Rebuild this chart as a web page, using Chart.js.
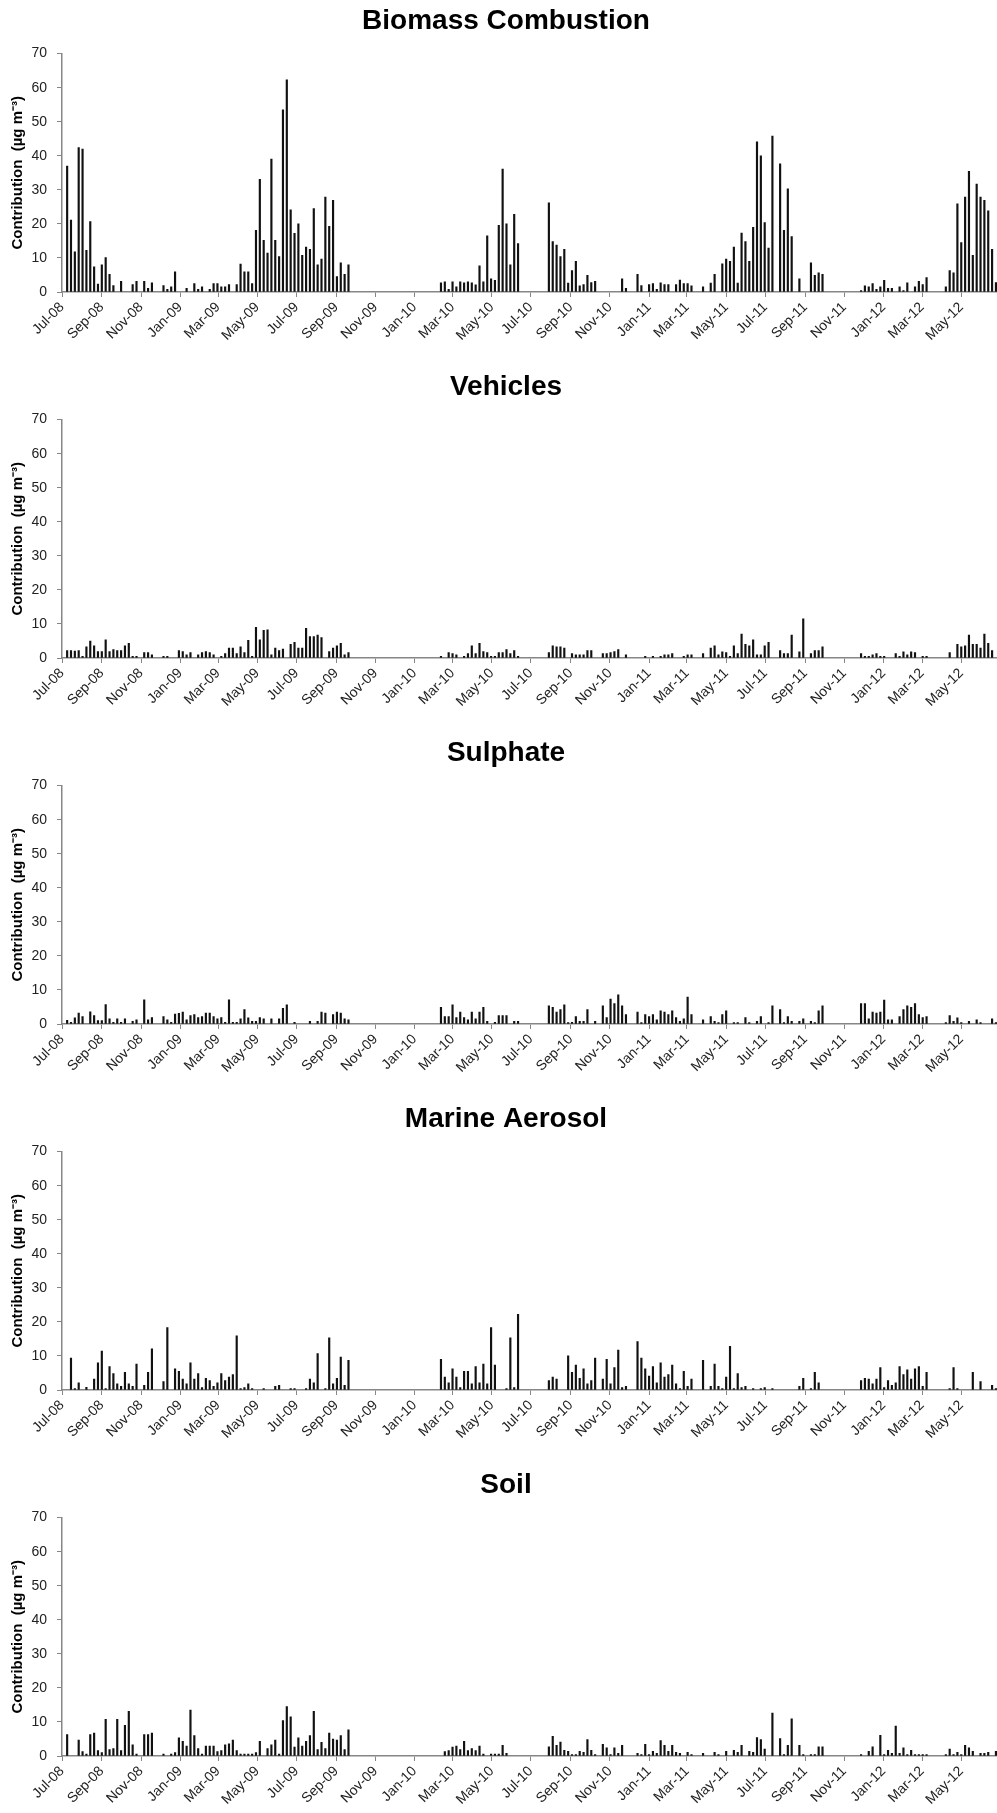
<!DOCTYPE html>
<html lang="en">
<head>
<meta charset="UTF-8">
<title>Source contributions</title>
<script src="https://cdn.jsdelivr.net/npm/chart.js"></script>
<style>
  body { margin: 0; background: #fff; overflow: hidden; }
  .panel { width: 997px; height: 366px; overflow: hidden; }
  canvas { display: block; }
</style>
</head>
<body>
<!-- canvases run 15px past the page edge so the titles sit a bit right of centre, like the original -->
<div class="panel"><canvas id="biomass" width="1012" height="366"></canvas></div>
<div class="panel"><canvas id="vehicles" width="1012" height="366"></canvas></div>
<div class="panel"><canvas id="sulphate" width="1012" height="366"></canvas></div>
<div class="panel"><canvas id="marine" width="1012" height="366"></canvas></div>
<div class="panel"><canvas id="soil" width="1012" height="366"></canvas></div>

<script>
// Sampling: one filter every 6 days, first one on 9 Jul 2008 (242 samples)
const FIRST_SAMPLE = '2008-07-09';
const STEP_DAYS = 6;
const AXIS_START = '2008-07-01';
const AXIS_END = '2012-07-19'; // the last ~3 weeks fall in the hidden 15px

const tickLabels = ['Jul-08', 'Sep-08', 'Nov-08', 'Jan-09', 'Mar-09', 'May-09', 'Jul-09', 'Sep-09',
    'Nov-09', 'Jan-10', 'Mar-10', 'May-10', 'Jul-10', 'Sep-10', 'Nov-10', 'Jan-11', 'Mar-11',
    'May-11', 'Jul-11', 'Sep-11', 'Nov-11', 'Jan-12', 'Mar-12', 'May-12'];

// Contributions (ug m-3), one value per sample, null = no sample
const biomass = [
    37, 21.1, 11.8, 42.4, 42, 12.2, 20.7, 7.4, 2.3, 8,
    10.1, 5.2, 1.9, null, 3.1, null, null, 2.2, 3.1, null,
    3.1, 1.1, 2.7, null, null, 1.9, 0.8, 1.5, 5.9, null,
    null, 1.1, null, 2.5, 0.8, 1.5, null, 0.8, 2.5, 2.5,
    1.5, 1.5, 2.2, null, 2.2, 8.2, 5.9, 5.9, 2.5, 18.1,
    33.1, 15.2, 11.4, 39, 15.2, 10.4, 53.5, 62.3, 24.1, 17.2,
    20, 10.8, 13.2, 12.5, 24.5, 8, 9.7, 27.9, 19.3, 26.9,
    4.5, 8.6, 5.2, 8, null, null, null, null, null, null,
    null, null, null, null, null, null, null, null, null, null,
    null, null, null, null, null, null, null, 2.7, 3, 0.8,
    3, 1.5, 3, 2.7, 3, 2.7, 2.1, 7.7, 3, 16.5,
    3.9, 3.4, 19.6, 36.1, 20, 8, 22.8, 14.2, null, null,
    null, null, null, null, null, 26.2, 14.8, 13.8, 10.4, 12.5,
    2.6, 6.3, 9, 1.8, 2.2, 4.9, 2.8, 3.1, null, null,
    null, null, null, null, 3.9, 1.1, null, null, 5.2, 1.9,
    null, 2.2, 2.5, 0.8, 2.7, 2.2, 2.2, null, 2.2, 3.5,
    2.5, 2.5, 1.8, null, null, 1.5, null, 2.6, 5.2, null,
    8.3, 9.7, 9, 13.2, 2.6, 17.3, 14.8, 9, 19, 44.1,
    40, 20.4, 12.9, 45.8, null, 37.6, 18.1, 30.3, 16.3, null,
    3.9, null, null, 8.6, 4.9, 5.6, 5.2, null, null, null,
    null, null, null, null, null, null, 0.4, 1.8, 1.5, 2.5,
    0.8, 1.5, 3.4, 1.1, 1.1, null, 1.5, 0.4, 2.7, null,
    1.5, 3.1, 2.2, 4.2, null, null, null, null, 1.5, 6.3,
    5.6, 25.9, 14.5, 27.9, 35.4, 10.8, 31.7, 27.9, 26.9, 23.8,
    12.5, 2.8
];

const vehicles = [
    2.2, 2.2, 2, 2.2, 0.5, 3.3, 5, 3.6, 1.9, 1.9,
    5.3, 1.9, 2.5, 2.2, 2.2, 3.6, 4.3, 0.5, 0.5, null,
    1.6, 1.6, 0.9, null, null, 0.5, 0.5, null, null, 2.2,
    1.9, 0.9, 1.6, null, 0.9, 1.6, 1.9, 1.6, 0.9, null,
    0.5, 1.3, 2.9, 2.9, 1.3, 3.3, 1.6, 5.2, 0.5, 9,
    5.3, 8.1, 8.3, 0.9, 2.9, 2.2, 2.6, null, 4, 4.6,
    2.9, 2.9, 8.7, 6.3, 6.3, 6.7, 6, null, 1.9, 2.9,
    3.6, 4.3, 0.9, 1.6, null, null, null, null, null, null,
    null, null, null, null, null, null, null, null, null, null,
    null, null, null, null, null, null, null, 0.5, null, 1.6,
    1.3, 0.9, null, 0.5, 1.3, 3.6, 1.3, 4.3, 1.9, 1.6,
    0.5, 0.5, 1.6, 1.6, 2.5, 1.3, 2.2, 0.5, null, null,
    null, null, null, null, null, 1.6, 3.6, 3.3, 3.3, 2.9,
    null, 1.3, 0.9, 0.9, 0.9, 2.2, 2.2, null, null, 1.3,
    1.3, 1.6, 1.9, 2.5, null, 0.9, null, null, null, null,
    0.5, null, 0.5, null, 0.5, 0.9, 0.9, 1.3, null, null,
    0.5, 0.9, 0.9, null, null, 1.3, null, 2.9, 3.6, 0.9,
    1.8, 1.6, 0.5, 3.6, 1.3, 7, 4, 3.6, 5.3, 0.9,
    0.9, 3.6, 4.6, null, null, 2.2, 1.3, 1.3, 6.7, null,
    1.8, 11.5, null, 1.3, 2.2, 2.2, 3.3, null, null, null,
    null, null, null, null, null, null, 1.3, 0.5, 0.5, 0.9,
    1.3, 0.5, 0.5, null, null, 1.3, 0.5, 1.8, 0.9, 1.8,
    1.6, null, 0.5, 0.5, null, null, null, null, null, 1.6,
    null, 4, 3.3, 3.6, 6.7, 4, 4, 2.9, 7, 4.3,
    2.2, null
];

const sulphate = [
    1.1, 0.5, 1.8, 3.2, 2.2, null, 3.6, 2.5, 1, 1,
    5.7, 1.5, 0.5, 1.5, 0.5, 1.5, null, 0.8, 1.2, null,
    7.1, 1.2, 1.9, null, null, 2.2, 1.2, 0.5, 2.9, 3.1,
    3.5, 1.2, 2.5, 2.8, 1.9, 2.2, 3.2, 3.2, 2.2, 1.5,
    1.9, 0.5, 7.1, 0.5, 0.5, 1.5, 4.2, 1.8, 0.8, 0.8,
    1.9, 1.5, null, 1.5, null, 1.5, 4.6, 5.6, null, 0.5,
    null, null, null, 0.8, null, 0.8, 3.5, 3.2, null, 2.8,
    3.5, 3.2, 1.5, 1.2, null, null, null, null, null, null,
    null, null, null, null, null, null, null, null, null, null,
    null, null, null, null, null, null, null, 4.9, 2.2, 2.2,
    5.6, 1.9, 3.5, 1.9, 1.2, 3.5, 1.5, 3.5, 4.9, 0.8,
    null, 0.5, 2.5, 2.5, 2.5, null, 0.8, 0.8, null, null,
    null, null, null, null, null, 5.3, 4.9, 3.5, 4.2, 5.6,
    0.4, 0.5, 2.2, 0.8, 0.8, 4.2, null, 0.8, null, 5.3,
    1.9, 7.3, 6, 8.6, 5.3, 2.8, null, null, 3.5, 0.4,
    2.8, 2.2, 2.8, 1.2, 3.9, 3.5, 2.8, 3.9, 1.9, 0.8,
    1.5, 7.9, 2.8, null, null, 1.2, null, 2.2, 0.8, 0.4,
    2.8, 3.9, null, 0.4, 0.4, null, 1.9, 0.4, null, 0.8,
    2.2, null, 0.4, 5.3, null, 4.2, 0.4, 2.2, 0.8, null,
    0.8, 1.5, null, 0.8, 0.4, 3.9, 5.3, null, null, null,
    null, null, null, null, null, null, 6, 6, 1.5, 3.5,
    3.2, 3.5, 7, 1.2, 1.2, null, 2.2, 4.2, 5.3, 4.9,
    6, 2.8, 1.9, 2.2, null, null, null, null, 0.4, 2.5,
    0.8, 1.8, 0.4, null, 0.8, null, 1.2, 0.4, null, null,
    1.5, 0.4
];

const marine = [
    null, 9.4, 0.4, 2.1, null, 0.8, null, 3.2, 8, 11.4,
    0.4, 6.9, 4.8, 1.8, 1.1, 5.2, 1.8, 1.1, 7.6, null,
    1.4, 5.2, 12.1, null, null, 2.5, 18.3, null, 6.2, 5.5,
    3.2, 1.8, 8, 3.2, 4.8, 0.7, 3.4, 2.8, 1.1, 2.1,
    4.8, 2.8, 3.8, 4.5, 15.9, 0.4, 0.7, 1.8, 0.4, null,
    null, 0.4, null, null, 1.1, 1.4, null, null, 0.4, 0.4,
    null, null, 0.4, 3.2, 2.1, 10.7, null, 0.4, 15.3, 1.8,
    3.4, 9.7, 1.4, 8.7, null, null, null, null, null, null,
    null, null, null, null, null, null, null, null, null, null,
    null, null, null, null, null, null, null, 9, 3.8, 2.1,
    6.2, 3.8, 0.7, 5.5, 5.5, 1.8, 6.9, 2.1, 7.6, 1.8,
    18.3, 7.3, null, null, 0.4, 15.3, 0.7, 22.2, null, null,
    null, null, null, null, null, 2.8, 3.8, 3.2, null, null,
    10, 5.2, 7.3, 3.4, 6.2, 1.8, 2.8, 9.4, null, 3.2,
    9, 1.8, 6.6, 11.7, 0.7, 1.1, null, null, 14.2, 9.4,
    6.2, 4.1, 6.9, 2.1, 8, 3.8, 4.5, 7.3, 1.8, 0.4,
    5.5, 1.1, 3.2, null, null, 8.7, null, 1.1, 7.6, 1.1,
    0.4, 3.8, 12.8, 0.4, 4.8, 0.7, 1.1, null, 0.4, null,
    0.4, 0.7, null, 0.4, null, null, null, null, null, null,
    1.1, 3.4, null, 0.4, 5.2, 2.1, null, null, null, null,
    null, null, null, null, null, null, 2.8, 3.4, 3.2, 1.8,
    3.2, 6.6, 0.7, 2.8, 1.4, 2.1, 6.9, 4.5, 5.9, 3.2,
    6.2, 6.9, 1.1, 5.2, null, null, null, null, null, 0.4,
    6.6, 0.4, null, null, null, 5.2, null, 2.5, null, null,
    1.4, 0.4
];

const soil = [
    6.3, null, null, 4.7, 1.3, 0.6, 6.3, 6.7, 1.6, 1,
    10.8, 1.9, 2.2, 10.8, 1.6, 9, 13.1, 3.3, 0.6, null,
    6.3, 6.3, 6.7, null, null, 0.6, null, 0.6, 1, 5.3,
    4.3, 2.9, 13.5, 6, 2.2, 0.6, 2.9, 2.9, 2.9, 1.3,
    1.6, 3.3, 3.6, 4.7, 1.6, 0.6, 0.6, 0.6, 0.6, 1,
    4.3, null, 2.2, 3.3, 4.7, 0.6, 10.4, 14.5, 11.5, 2.6,
    5.3, 2.9, 4.3, 6, 13.1, 1.9, 4, 2.2, 6.7, 5,
    4.7, 6, 1.9, 7.7, null, null, null, null, null, null,
    null, null, null, null, null, null, null, null, null, null,
    null, null, null, null, null, null, null, null, 1.3, 1.6,
    2.6, 2.9, 1.9, 4.3, 1.6, 2.2, 1.6, 2.9, 0.6, null,
    0.6, 0.6, 0.6, 3.1, 0.8, null, null, null, null, null,
    null, null, null, null, null, 2.7, 5.8, 3.1, 4.1, 1.7,
    1.4, 0.4, 0.4, 1.4, 1.1, 4.8, 1.7, 0.4, null, 3.4,
    2.4, 0.4, 2.4, 0.8, 3.1, null, null, null, 0.8, 0.4,
    3.4, 0.4, 1.4, 0.8, 4.5, 3.1, 1.4, 3.1, 1.1, 0.8,
    null, 1.1, 0.4, null, null, 0.8, null, null, 1.1, 0.4,
    null, 1.4, null, 1.7, 1.1, 3.1, null, 1.4, 1.1, 5.4,
    4.8, 2, null, 12.6, null, 5.1, 0.4, 3.1, 10.9, null,
    3.1, 0.4, null, 0.4, 0.4, 2.7, 2.7, null, null, null,
    null, null, null, null, null, null, 0.4, null, 1.4, 2.7,
    null, 6.1, 0.4, 1.7, 0.8, 8.8, 0.8, 2.4, 0.4, 1.7,
    0.4, 0.4, 0.4, 0.4, null, null, null, null, 0.4, 2,
    0.4, 1.1, 0.4, 3.1, 2.4, 1.4, null, 0.8, 0.8, 1.1,
    null, 1.4
];

const FONT = "'Liberation Sans', Arial, sans-serif";
const AXIS_GREY = '#868686';
const DAY_MS = 86400000;
const MONTHS = ['Jan', 'Feb', 'Mar', 'Apr', 'May', 'Jun', 'Jul', 'Aug', 'Sep', 'Oct', 'Nov', 'Dec'];

// days counted from the start of the axis
function dayOf(iso) {
    return Math.round((Date.parse(iso) - Date.parse(AXIS_START)) / DAY_MS);
}

function labelToDay(label) {
    const [mon, yy] = label.split('-');
    const d = Date.UTC(2000 + Number(yy), MONTHS.indexOf(mon), 1);
    return Math.round((d - Date.parse(AXIS_START)) / DAY_MS);
}

const tickDays = tickLabels.map(labelToDay);
const sampleDays = biomass.map((v, i) => dayOf(FIRST_SAMPLE) + i * STEP_DAYS);

function drawPanel(id, title, values) {
    const points = values.map((v, i) => ({ x: sampleDays[i], y: v }));

    new Chart(document.getElementById(id), {
        type: 'bar',
        data: {
            datasets: [{
                data: points,
                backgroundColor: '#111',
                borderWidth: 0,
                barThickness: 1.5
            }]
        },
        options: {
            responsive: false,
            animation: false,
            plugins: {
                legend: { display: false },
                tooltip: { enabled: false },
                title: {
                    display: true,
                    text: title,
                    color: '#000',
                    font: { family: FONT, size: 28, weight: 'bold' },
                    padding: { top: 4, bottom: 16 }
                }
            },
            scales: {
                x: {
                    type: 'linear',
                    min: 0,
                    max: dayOf(AXIS_END),
                    offset: false,
                    afterBuildTicks: axis => {
                        axis.ticks = tickDays.map(v => ({ value: v }));
                    },
                    afterFit: axis => { axis.height = 74; },
                    border: { color: AXIS_GREY, width: 1.5 },
                    grid: { drawOnChartArea: false, offset: false, tickLength: 5, color: AXIS_GREY },
                    ticks: {
                        autoSkip: false,
                        maxRotation: 45,
                        minRotation: 45,
                        padding: 2,
                        color: '#222',
                        font: { family: FONT, size: 14 },
                        callback: v => tickLabels[tickDays.indexOf(v)]
                    }
                },
                y: {
                    min: 0,
                    max: 70,
                    afterFit: axis => { axis.width = 62; },
                    border: { color: AXIS_GREY, width: 1.5 },
                    grid: { drawOnChartArea: false, tickLength: 5, color: AXIS_GREY },
                    ticks: {
                        stepSize: 10,
                        padding: 10,
                        color: '#222',
                        font: { family: FONT, size: 14 }
                    },
                    title: {
                        display: true,
                        text: 'Contribution  (µg m⁻³)',
                        color: '#000',
                        font: { family: FONT, size: 15, weight: 'bold' },
                        padding: { top: 9, bottom: 0 }
                    }
                }
            }
        }
    });
}

drawPanel('biomass', 'Biomass Combustion', biomass);
drawPanel('vehicles', 'Vehicles', vehicles);
drawPanel('sulphate', 'Sulphate', sulphate);
drawPanel('marine', 'Marine Aerosol', marine);
drawPanel('soil', 'Soil', soil);
</script>
</body>
</html>
